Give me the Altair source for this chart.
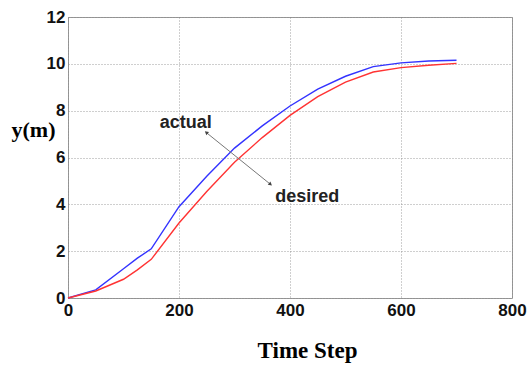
import altair as alt
import pandas as pd

steps = [0, 50, 100, 125, 150, 200, 250, 300, 350, 400, 450, 500, 550, 600, 650, 700]
actual = [0, 0.35, 1.25, 1.7, 2.1, 3.9, 5.2, 6.4, 7.35, 8.2, 8.92, 9.47, 9.88, 10.04, 10.12, 10.15]
desired = [0, 0.3, 0.8, 1.2, 1.65, 3.2, 4.55, 5.8, 6.85, 7.8, 8.6, 9.22, 9.65, 9.84, 9.94, 10.02]

labels = ["actual", "desired"]
label_x = [212, 431]
label_y = [7.26, 4.1]

arrow_x = [250, 364]
arrow_y = [7.05, 4.87]
arrow_angle = [309, 129]

df = pd.DataFrame({"step": steps * 2,
                   "y": actual + desired,
                   "series": ["actual"] * len(steps) + ["desired"] * len(steps)})

xs = alt.Scale(domain=[0, 800], nice=False)
ys = alt.Scale(domain=[0, 12], nice=False)

x_axis = alt.Axis(values=[0, 200, 400, 600, 800], title="Time Step",
                  titleFont="Liberation Serif", titleFontSize=23, titleFontWeight="bold",
                  titleColor="black", titleX=239, titleY=52, titleAlign="center",
                  titleBaseline="middle",
                  labelFont="Liberation Sans", labelFontSize=17, labelFontWeight="bold",
                  labelColor="#111", labelPadding=4, tickSize=0, labelFlush=False,
                  grid=True, gridDash=[1, 2], gridColor="#888", gridOpacity=0.8,
                  domain=False)
y_axis = alt.Axis(values=[0, 2, 4, 6, 8, 10, 12], title="y(m)", titleAngle=0,
                  titleFont="Liberation Serif", titleFontSize=22, titleFontWeight="bold",
                  titleColor="black", titleX=-35, titleY=112, titleAlign="center",
                  titleBaseline="middle",
                  labelFont="Liberation Sans", labelFontSize=17, labelFontWeight="bold",
                  labelColor="#111", labelPadding=3, tickSize=0, labelFlush=False,
                  grid=True, gridDash=[1, 2], gridColor="#888", gridOpacity=0.8,
                  domain=False)

lines = alt.Chart(df).mark_line(strokeWidth=1.4).encode(
    x=alt.X("step:Q", scale=xs, axis=x_axis),
    y=alt.Y("y:Q", scale=ys, axis=y_axis),
    color=alt.Color("series:N", scale=alt.Scale(domain=["actual", "desired"],
                                                range=["#3333ff", "#ff3333"]), legend=None),
)

lab_df = pd.DataFrame({"x": label_x, "y": label_y, "t": labels})
texts = alt.Chart(lab_df).mark_text(font="Liberation Sans", fontSize=18, fontWeight="bold",
                                    color="#222", baseline="alphabetic").encode(
    x=alt.X("x:Q", scale=xs), y=alt.Y("y:Q", scale=ys), text="t:N")

arr_df = pd.DataFrame({"x": [arrow_x[0]], "y": [arrow_y[0]], "x2": [arrow_x[1]], "y2": [arrow_y[1]]})
arrow_line = alt.Chart(arr_df).mark_rule(color="#777", strokeWidth=1).encode(
    x=alt.X("x:Q", scale=xs), y=alt.Y("y:Q", scale=ys), x2="x2:Q", y2="y2:Q")

head_df = pd.DataFrame({"x": arrow_x, "y": arrow_y, "a": arrow_angle})
heads = alt.Chart(head_df).mark_point(shape="triangle", filled=True, size=18, color="#444",
                                      opacity=1).encode(
    x=alt.X("x:Q", scale=xs), y=alt.Y("y:Q", scale=ys),
    angle=alt.Angle("a:Q", scale=None))

chart = alt.layer(lines, arrow_line, heads, texts).properties(
    width=444, height=281,
    padding={"left": 68, "top": 17, "right": 16, "bottom": 67},
    autosize=alt.AutoSizeParams(type="none"),
    background="white",
).configure_view(stroke="#999", strokeWidth=1)

chart.save("out.html", embed_options={"renderer": "svg", "actions": False})
